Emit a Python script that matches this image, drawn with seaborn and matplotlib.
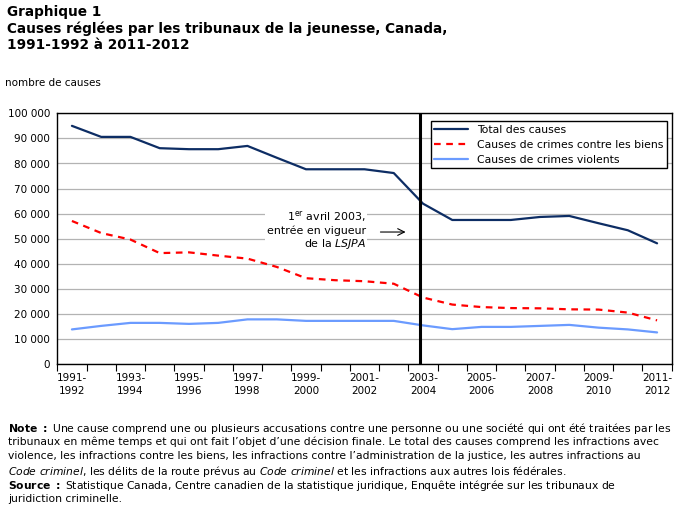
import numpy as np
import pandas as pd
import seaborn as sns
import matplotlib.pyplot as plt
from matplotlib.ticker import FuncFormatter

# fiscal years 1991-1992 ... 2011-2012
years = [f"{y}-\n{y + 1}" for y in range(1991, 2012)]

total = [95000, 90600, 90600, 86100, 85700, 85700, 87000, 82300, 77700, 77700, 77700,
         76200, 64000, 57500, 57500, 57500, 58700, 59100, 56200, 53400, 48200]
biens = [57100, 52300, 49700, 44300, 44600, 43300, 42100, 38800, 34300, 33500, 33100,
         32100, 26600, 23800, 22800, 22400, 22300, 21900, 21800, 20600, 17500]
violents = [13900, 15300, 16500, 16500, 16100, 16500, 17900, 17900, 17300, 17300, 17300,
            17300, 15500, 14000, 14900, 14900, 15300, 15700, 14600, 13900, 12700]

series_names = ["Total des causes", "Causes de crimes contre les biens", "Causes de crimes violents"]
colors = ["#0d2d64", "#ff0000", "#6b9bff"]

df = pd.DataFrame({
    "idx": list(range(len(years))) * 3,
    "value": total + biens + violents,
    "serie": [s for s in series_names for _ in years],
})

sns.set_theme(style="white")
plt.rcParams["font.family"] = ["DejaVu Sans"]
plt.rcParams["mathtext.fontset"] = "dejavusans"
for k in ["text.color", "axes.labelcolor", "xtick.color", "ytick.color"]:
    plt.rcParams[k] = "black"

fig = plt.figure(figsize=(6.81, 5.07), dpi=100)
ax = fig.add_axes([57.3 / 681, 1 - 364.3 / 507, 614.4 / 681, 251 / 507])

sns.lineplot(data=df, x="idx", y="value", hue="serie", style="serie",
             palette=dict(zip(series_names, colors)),
             dashes={series_names[0]: "", series_names[1]: (3, 2.5), series_names[2]: ""},
             linewidth=1.6, ax=ax)

ax.set_xlim(-0.5, 20.5)
ax.set_ylim(0, 100000)
ax.set_yticks(range(0, 100001, 10000))
ax.yaxis.set_major_formatter(FuncFormatter(lambda v, p: f"{int(v):,}".replace(",", " ")))
ax.grid(axis="y", color="#b3b3b3", linewidth=0.9)
ax.set_axisbelow(True)

# ticks at category boundaries, labels every other category
ax.set_xticks(np.arange(-0.5, 21, 1))
ax.set_xticklabels([])
ax.set_xticks(range(0, 21, 2), minor=True)
ax.set_xticklabels([years[i] for i in range(0, 21, 2)], minor=True, fontsize=7.5)
for lab in ax.get_xticklabels(minor=True):
    lab.set_linespacing(1.45)
ax.tick_params(axis="x", which="major", direction="out", length=5, width=0.8, color="black", bottom=True)
ax.tick_params(axis="x", which="minor", length=0, pad=6)
ax.tick_params(axis="y", length=0, labelsize=7.5, pad=5)
ax.set_xlabel("")
ax.set_ylabel("")
for sp in ax.spines.values():
    sp.set_color("black")
    sp.set_linewidth(1)

# LSJPA
ax.axvline(11.9, color="black", linewidth=2.2)
ax.text(10.05, 53300, "1$^{\\mathrm{er}}$ avril 2003,\nentrée en vigueur\nde la $\\mathit{LSJPA}$",
        ha="right", va="center", multialignment="right", fontsize=7.9, linespacing=1.15,
        bbox=dict(facecolor="white", edgecolor="none", pad=1))
ax.annotate("", xy=(11.5, 52700), xytext=(10.45, 52700),
            arrowprops=dict(arrowstyle="->", color="black", lw=0.8))

leg = ax.legend(loc="upper right", bbox_to_anchor=(0.992, 0.969), borderaxespad=0,
                fontsize=7.8, frameon=True, fancybox=False, edgecolor="black",
                framealpha=1, handlelength=3.1, labelspacing=0.45, borderpad=0.35)
leg.get_frame().set_linewidth(1)

fig.text(7 / 681, 1 - 5 / 507, "Graphique 1\nCauses réglées par les tribunaux de la jeunesse, Canada,\n1991-1992 à 2011-2012",
         ha="left", va="top", fontsize=9.8, fontweight="bold", linespacing=1.2)
fig.text(5 / 681, 1 - 83 / 507, "nombre de causes", ha="left", va="center", fontsize=7.5)

note_lines = [
    "$\\mathbf{Note\\ :}$ Une cause comprend une ou plusieurs accusations contre une personne ou une société qui ont été traitées par les",
    "tribunaux en même temps et qui ont fait l’objet d’une décision finale. Le total des causes comprend les infractions avec",
    "violence, les infractions contre les biens, les infractions contre l’administration de la justice, les autres infractions au",
    "$\\mathit{Code\\ criminel}$, les délits de la route prévus au $\\mathit{Code\\ criminel}$ et les infractions aux autres lois fédérales.",
    "$\\mathbf{Source\\ :}$ Statistique Canada, Centre canadien de la statistique juridique, Enquête intégrée sur les tribunaux de",
    "juridiction criminelle.",
]
for i, line in enumerate(note_lines):
    fig.text(8 / 681, 1 - (427 + 14.2 * i) / 507, line, ha="left", va="center_baseline", fontsize=7.75)

fig.savefig("out.png", dpi=100)
